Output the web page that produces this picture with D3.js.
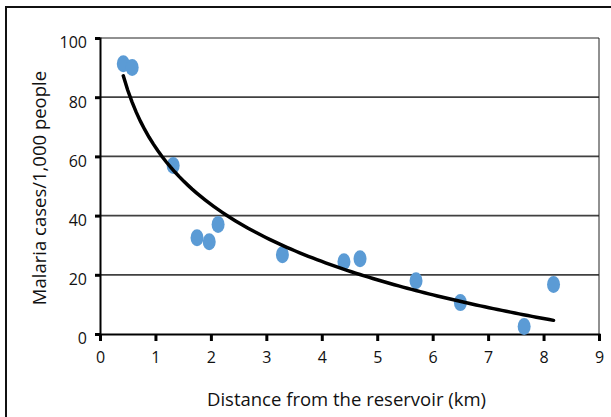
<!DOCTYPE html>
<html>
<head>
<meta charset="utf-8">
<script src="https://cdn.jsdelivr.net/npm/d3@7"></script>
<style>
  body { margin: 0; background: #fff; }
  svg { display: block; font-family: "Open Sans", "Noto Sans", sans-serif; }
</style>
</head>
<body>
<div id="chart"></div>
<script>
// distance (km) and malaria cases per 1,000 people
const distanceKm = [0.42, 0.58, 1.32, 1.75, 1.97, 2.13, 3.29, 4.40, 4.69, 5.70, 6.50, 7.65, 8.18];
const casesPer1000 = [91.3, 90.0, 56.9, 32.5, 31.2, 37.0, 26.8, 24.4, 25.4, 18.0, 10.6, 2.5, 16.7];
const xTicks = [0, 1, 2, 3, 4, 5, 6, 7, 8, 9];
const yTicks = [0, 20, 40, 60, 80, 100];
const xTitle = "Distance from the reservoir (km)";
const yTitle = "Malaria cases/1,000 people";

const width = 611, height = 417;
const margin = { top: 38, right: 12, bottom: 83, left: 100 };

const svg = d3.select("#chart").append("svg")
    .attr("width", width)
    .attr("height", height);

// outer frame (runs off the right and bottom edge)
svg.append("path")
    .attr("d", `M6,${height} V7 H${width}`)
    .attr("fill", "none")
    .attr("stroke", "#111")
    .attr("stroke-width", 2);

const x = d3.scaleLinear().domain([0, 9]).range([margin.left, width - margin.right]);
const y = d3.scaleLinear().domain([0, 100]).range([height - margin.bottom, margin.top]);

// gridlines
svg.append("g")
    .selectAll("line")
    .data(yTicks.filter(d => d > 0 && d < 100))
    .join("line")
    .attr("x1", x(0)).attr("x2", x(9))
    .attr("y1", d => y(d)).attr("y2", d => y(d))
    .attr("stroke", "#404040")
    .attr("stroke-width", 1.8);

// top and right border of plot area
svg.append("path")
    .attr("d", `M${x(0)},${y(100)} H${x(9)} V${y(0)}`)
    .attr("fill", "none")
    .attr("stroke", "#222")
    .attr("stroke-width", 1);

// axes
const xAxis = svg.append("g")
    .attr("transform", `translate(0,${y(0)})`)
    .call(d3.axisBottom(x).tickValues(xTicks).tickSize(7).tickPadding(11));
const yAxis = svg.append("g")
    .attr("transform", `translate(${x(0)},0)`)
    .call(d3.axisLeft(y).tickValues(yTicks).tickSize(5).tickPadding(8));

[xAxis, yAxis].forEach(g => {
    g.select(".domain").attr("stroke", "#000").attr("stroke-width", 2);
    g.selectAll(".tick line").attr("stroke", "#000").attr("stroke-width", 3);
    g.selectAll(".tick text")
        .attr("fill", "#111")
        .style("font-size", "16px")
        .style("font-family", "'Open Sans', sans-serif");
});
yAxis.selectAll(".tick text").attr("dy", "0.62em");

// data points
svg.append("g")
    .selectAll("ellipse")
    .data(distanceKm.map((d, i) => ({ x: d, y: casesPer1000[i] })))
    .join("ellipse")
    .attr("cx", d => x(d.x))
    .attr("cy", d => y(d.y))
    .attr("rx", 6.5)
    .attr("ry", 8.5)
    .attr("fill", "#5b9bd5");

// logarithmic trend line, least squares fit of the points
const lnX = distanceKm.map(Math.log);
const mL = d3.mean(lnX), mY = d3.mean(casesPer1000);
const slope = d3.sum(lnX, (l, i) => (l - mL) * (casesPer1000[i] - mY)) / d3.sum(lnX, l => (l - mL) ** 2);
const intercept = mY - slope * mL;
const [xMin, xMax] = d3.extent(distanceKm);
const trend = d3.range(0, 101).map(i => {
    const xv = xMin + (xMax - xMin) * i / 100;
    return [xv, intercept + slope * Math.log(xv)];
});

svg.append("path")
    .datum(trend)
    .attr("fill", "none")
    .attr("stroke", "#000")
    .attr("stroke-width", 3.5)
    .attr("stroke-linecap", "round")
    .attr("d", d3.line().x(d => x(d[0])).y(d => y(d[1])));

// axis titles
svg.append("text")
    .attr("x", (x(0) + x(9)) / 2 - 3)
    .attr("y", 406)
    .attr("text-anchor", "middle")
    .attr("fill", "#111")
    .style("font-size", "18.5px")
    .text(xTitle);

svg.append("text")
    .attr("transform", `translate(46,${(y(0) + y(100)) / 2 + 2}) rotate(-90)`)
    .attr("text-anchor", "middle")
    .attr("fill", "#111")
    .style("font-size", "18.5px")
    .text(yTitle);
</script>
</body>
</html>
